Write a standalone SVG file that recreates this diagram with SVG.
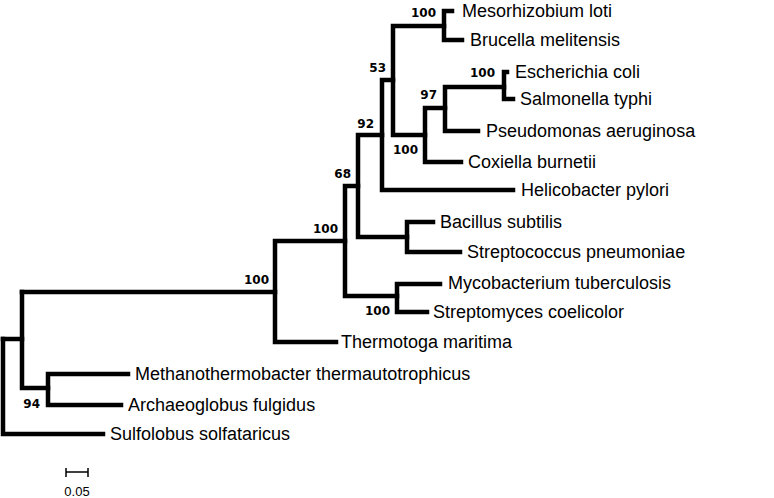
<svg xmlns="http://www.w3.org/2000/svg" width="774" height="498" viewBox="0 0 774 498">
<style>
.br{fill:none;stroke:#000;stroke-width:4.5;stroke-linecap:square;stroke-linejoin:miter}
.lab{font-family:"Liberation Sans",Arial,sans-serif;font-size:18px;fill:#000}
.bs{font-family:"DejaVu Sans",Verdana,sans-serif;font-weight:bold;font-size:12px;fill:#000;text-anchor:end}
.sc{fill:none;stroke:#000;stroke-width:1.5}
</style>
<rect width="774" height="498" fill="#fff"/>
<g id="connectors">
<path class="br" d="M3,339 V434 H103"/>
<path class="br" d="M3,339 H22"/>
<path class="br" d="M22,292 V388 H48"/>
<path class="br" d="M22,292 H275"/>
<path class="br" d="M48,374 V405 H121 M48,374 H128"/>
<path class="br" d="M275,241 V342 H336 M275,241 H345"/>
<path class="br" d="M345,186 V296 H397 M345,186 H358"/>
<path class="br" d="M397,284 V312 H427 M397,284 H440"/>
<path class="br" d="M358,135 V237 H407 M358,135 H382"/>
<path class="br" d="M407,222 V252 H460 M407,222 H433"/>
<path class="br" d="M382,80 V190 H513 M382,80 H393"/>
<path class="br" d="M393,26 V135 H425 M393,26 H444"/>
<path class="br" d="M444,11 V40 H462 M444,11 H452"/>
<path class="br" d="M425,108 V162 H461 M425,108 H445"/>
<path class="br" d="M445,87 V131 H478 M445,87 H504"/>
<path class="br" d="M504,72 V99 H513 M504,72 H507"/>
</g>
<g id="tips">
<text id="t-meso" class="lab" x="462" y="17">Mesorhizobium loti</text>
<text id="t-bruc" class="lab" x="470" y="46">Brucella melitensis</text>
<text id="t-esch" class="lab" x="515" y="78">Escherichia coli</text>
<text id="t-salm" class="lab" x="520" y="105">Salmonella typhi</text>
<text id="t-pseu" class="lab" x="486" y="137">Pseudomonas aeruginosa</text>
<text id="t-coxi" class="lab" x="468" y="168">Coxiella burnetii</text>
<text id="t-heli" class="lab" x="521" y="196">Helicobacter pylori</text>
<text id="t-baci" class="lab" x="440" y="228">Bacillus subtilis</text>
<text id="t-spne" class="lab" x="467" y="258">Streptococcus pneumoniae</text>
<text id="t-myco" class="lab" x="448" y="289">Mycobacterium tuberculosis</text>
<text id="t-scoe" class="lab" x="433" y="318">Streptomyces coelicolor</text>
<text id="t-ther" class="lab" x="341" y="348">Thermotoga maritima</text>
<text id="t-meth" class="lab" x="135" y="380">Methanothermobacter thermautotrophicus</text>
<text id="t-arch" class="lab" x="128" y="411">Archaeoglobus fulgidus</text>
<text id="t-sulf" class="lab" x="110" y="440">Sulfolobus solfataricus</text>
</g>
<g id="bootstrap">
<text class="bs" x="436" y="17">100</text>
<text class="bs" x="386" y="72">53</text>
<text class="bs" x="495" y="77">100</text>
<text class="bs" x="437" y="99">97</text>
<text class="bs" x="418" y="154">100</text>
<text class="bs" x="374" y="128">92</text>
<text class="bs" x="351" y="178">68</text>
<text class="bs" x="338" y="233">100</text>
<text class="bs" x="390" y="315">100</text>
<text class="bs" x="269" y="284">100</text>
<text class="bs" x="40" y="408">94</text>
</g>
<g id="scalebar">
<path class="sc" d="M66,472 H88 M66,468 V477 M88,468 V477"/>
<text x="77" y="496" text-anchor="middle" font-family="'Liberation Sans',Arial,sans-serif" font-size="13">0.05</text>
</g>
</svg>
